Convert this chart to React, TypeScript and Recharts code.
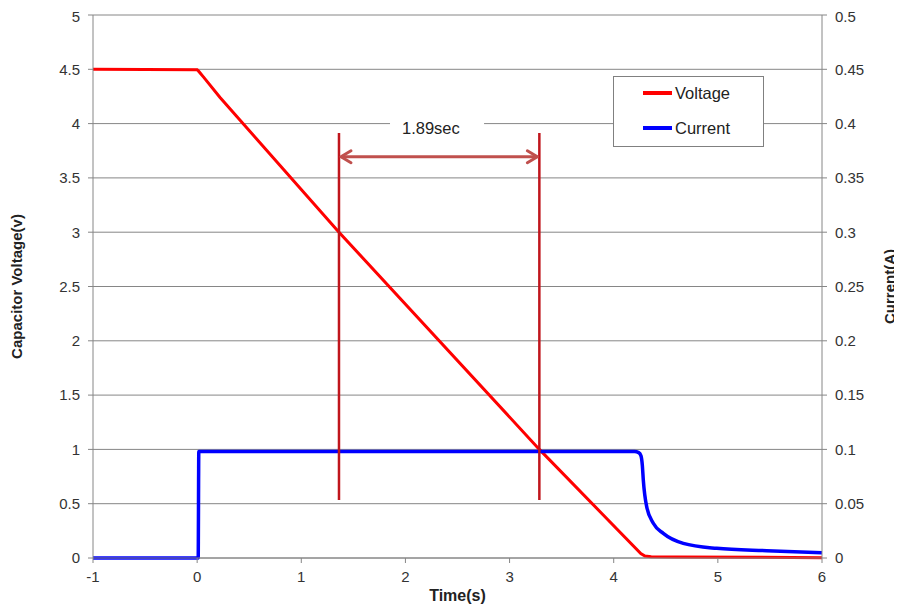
import React from 'react';
import {
  LineChart,
  Line,
  XAxis,
  YAxis,
  CartesianGrid,
  Legend,
  ReferenceLine,
  ReferenceArea,
} from 'recharts';

// ---- data ----
const voltageData = [
  { t: -1, v: 4.5 },
  { t: 0.0, v: 4.495 },
  { t: 0.012, v: 4.485 },
  { t: 0.06, v: 4.43 },
  { t: 0.22, v: 4.24 },
  { t: 1.362, v: 3.0 },
  { t: 3.286, v: 1.0 },
  { t: 3.869, v: 0.426 },
  { t: 4.26, v: 0.04 },
  { t: 4.3, v: 0.018 },
  { t: 4.36, v: 0.012 },
  { t: 4.6, v: 0.01 },
  { t: 6, v: 0.003 },
];

const currentData = [
  { t: -1, i: 0 },
  { t: 0.01, i: 0 },
  { t: 0.016, i: 0.098 },
  { t: 4.2, i: 0.098 },
  { t: 4.24, i: 0.097 },
  { t: 4.262, i: 0.094 },
  { t: 4.275, i: 0.085 },
  { t: 4.284, i: 0.072 },
  { t: 4.317, i: 0.047 },
  { t: 4.38, i: 0.032 },
  { t: 4.476, i: 0.0227 },
  { t: 4.668, i: 0.0135 },
  { t: 4.989, i: 0.0089 },
  { t: 5.469, i: 0.0067 },
  { t: 6, i: 0.0049 },
];

const xTicks = [-1, 0, 1, 2, 3, 4, 5, 6];
const leftTicks = [0, 0.5, 1, 1.5, 2, 2.5, 3, 3.5, 4, 4.5, 5];
const rightTicks = [0, 0.05, 0.1, 0.15, 0.2, 0.25, 0.3, 0.35, 0.4, 0.45, 0.5];
const rightTickLabels = ['0', '0.05', '0.1', '0.15', '0.2', '0.25', '0.3', '0.35', '0.4', '0.45', '0.5'];
const legendOrder = ['Voltage', 'Current'];

// annotation values
const markStart = 1.362;
const markEnd = 3.286;
const markTop = 3.913;
const markBottom = 0.534;
const arrowLevel = 3.695;
const boxX1 = 1.852;
const boxX2 = 2.755;
const boxY1 = 3.82;
const boxY2 = 4.1;
const intervalLabel = '1.89sec';

const FONT = '"Liberation Sans", Arial, sans-serif';
const AXIS_GRAY = '#868686';
const TEXT = '#333333';

const tickStyle = { fontSize: 15, fill: TEXT, fontFamily: FONT };

const ArrowShape = (props: any) => {
  const { x1, y1, x2, y2 } = props;
  const c = '#c0504d';
  const hl = 12;
  const hw = 6;
  return (
    <g>
      <line x1={x1 + 2} y1={y1} x2={x2 - 2} y2={y2} stroke={c} strokeWidth={3} />
      <polyline
        points={`${x1 + hl},${y1 - hw} ${x1 + 2},${y1} ${x1 + hl},${y1 + hw}`}
        fill="none"
        stroke={c}
        strokeWidth={3}
        strokeLinecap="round"
        strokeLinejoin="round"
      />
      <polyline
        points={`${x2 - hl},${y2 - hw} ${x2 - 2},${y2} ${x2 - hl},${y2 + hw}`}
        fill="none"
        stroke={c}
        strokeWidth={3}
        strokeLinecap="round"
        strokeLinejoin="round"
      />
    </g>
  );
};

const LegendContent = (props: any) => {
  const payload = [...(props.payload || [])].sort(
    (a: any, b: any) => legendOrder.indexOf(a.value) - legendOrder.indexOf(b.value)
  );
  return (
    <div
      style={{
        width: 151,
        height: 71,
        boxSizing: 'border-box',
        border: '1px solid #808080',
        background: '#fff',
        position: 'relative',
        fontFamily: FONT,
      }}
    >
      {payload.map((p: any, idx: number) => (
        <div
          key={p.value}
          style={{
            position: 'absolute',
            left: 29,
            top: 6 + idx * 35,
            height: 20,
            display: 'flex',
            alignItems: 'center',
          }}
        >
          <div style={{ width: 29, height: 3.5, background: p.color }} />
          <span style={{ marginLeft: 3, fontSize: 16.5, color: '#222' }}>{p.value}</span>
        </div>
      ))}
    </div>
  );
};

export default function App() {
  return (
    <div style={{ width: 894, height: 600 }}>
      <LineChart
        width={894}
        height={600}
        margin={{ top: 7, right: 8, bottom: 5, left: 5 }}
      >
        <CartesianGrid vertical={false} stroke={AXIS_GRAY} yAxisId="left" />
        <XAxis
          dataKey="t"
          type="number"
          domain={[-1, 6]}
          ticks={xTicks}
          allowDataOverflow
          height={45}
          tick={tickStyle}
          tickSize={5}
          tickMargin={8}
          stroke={AXIS_GRAY}
          axisLine={{ stroke: AXIS_GRAY }}
          tickLine={{ stroke: AXIS_GRAY }}
          label={(p: any) => {
            const vb = p.viewBox;
            return (
              <text
                x={vb.x + vb.width / 2}
                y={vb.y + vb.height - 2}
                textAnchor="middle"
                fontFamily={FONT}
                fontWeight="bold"
                fontSize={16}
                fill="#222"
              >
                Time(s)
              </text>
            );
          }}
        />
        <YAxis
          yAxisId="left"
          domain={[0, 5]}
          ticks={leftTicks}
          width={80}
          tick={tickStyle}
          tickSize={5}
          tickMargin={8}
          stroke={AXIS_GRAY}
          axisLine={{ stroke: AXIS_GRAY }}
          tickLine={{ stroke: AXIS_GRAY }}
          label={(p: any) => {
            const vb = p.viewBox;
            const x = vb.x + 3;
            const y = vb.y + vb.height / 2;
            return (
              <text
                x={x}
                y={y}
                transform={`rotate(-90, ${x}, ${y})`}
                textAnchor="middle"
                dominantBaseline="central"
                fontFamily={FONT}
                fontWeight="bold"
                fontSize={15}
                fill="#222"
              >
                Capacitor Voltage(v)
              </text>
            );
          }}
        />
        <YAxis
          yAxisId="right"
          orientation="right"
          domain={[0, 0.5]}
          ticks={rightTicks}
          tickFormatter={(v: number) => rightTickLabels[rightTicks.indexOf(v)] ?? String(v)}
          width={72}
          tick={tickStyle}
          tickSize={5}
          tickMargin={8}
          stroke={AXIS_GRAY}
          axisLine={{ stroke: AXIS_GRAY }}
          tickLine={{ stroke: AXIS_GRAY }}
          label={(p: any) => {
            const vb = p.viewBox;
            const x = vb.x + vb.width - 5;
            const y = vb.y + vb.height / 2;
            return (
              <text
                x={x}
                y={y}
                transform={`rotate(-90, ${x}, ${y})`}
                textAnchor="middle"
                dominantBaseline="central"
                fontFamily={FONT}
                fontWeight="bold"
                fontSize={15}
                fill="#222"
              >
                Current(A)
              </text>
            );
          }}
        />
        <ReferenceArea
          yAxisId="left"
          x1={boxX1}
          x2={boxX2}
          y1={boxY1}
          y2={boxY2}
          fill="#ffffff"
          fillOpacity={1}
          stroke="none"
          label={{
            value: intervalLabel,
            position: 'insideLeft',
            offset: 12,
            fontSize: 16.5,
            fontFamily: FONT,
            fill: '#222',
          }}
        />
        <Line
          data={voltageData}
          yAxisId="left"
          dataKey="v"
          name="Voltage"
          type="linear"
          stroke="#ff0000"
          strokeWidth={3}
          dot={false}
          activeDot={false}
          isAnimationActive={false}
        />
        <Line
          data={currentData}
          yAxisId="right"
          dataKey="i"
          name="Current"
          type="monotoneX"
          stroke="#0000ff"
          strokeWidth={3.5}
          dot={false}
          activeDot={false}
          isAnimationActive={false}
        />
        <ReferenceLine
          yAxisId="left"
          segment={[
            { x: markStart, y: markTop },
            { x: markStart, y: markBottom },
          ]}
          stroke="#c0151c"
          strokeWidth={2.5}
          ifOverflow="visible"
        />
        <ReferenceLine
          yAxisId="left"
          segment={[
            { x: markEnd, y: markTop },
            { x: markEnd, y: markBottom },
          ]}
          stroke="#c0151c"
          strokeWidth={2.5}
          ifOverflow="visible"
        />
        <ReferenceLine
          yAxisId="left"
          segment={[
            { x: markStart, y: arrowLevel },
            { x: markEnd, y: arrowLevel },
          ]}
          shape={ArrowShape}
          ifOverflow="visible"
        />
        <Legend
          layout="horizontal"
          verticalAlign="middle"
          align="center"
          content={LegendContent}
          wrapperStyle={{ left: 605, top: 68, width: 151, height: 71 }}
        />
      </LineChart>
    </div>
  );
}
